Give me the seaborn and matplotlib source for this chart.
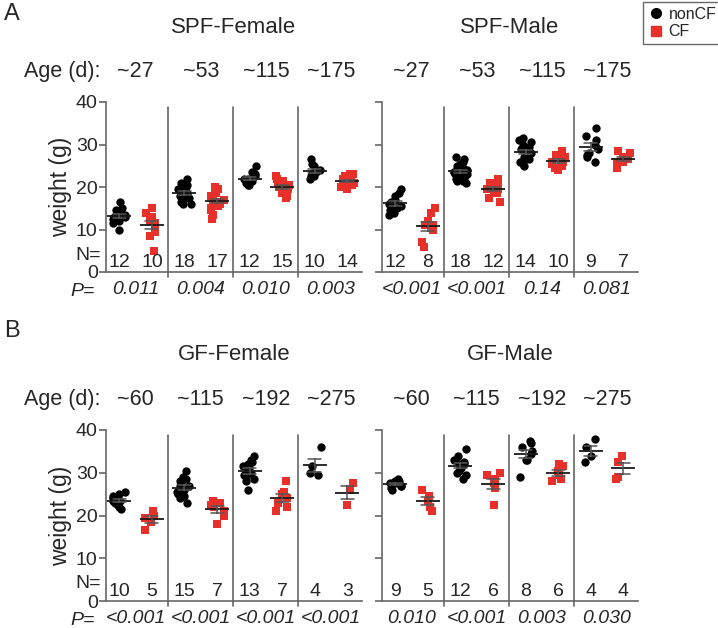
import numpy as np
import pandas as pd
import matplotlib
matplotlib.use('Agg')
import matplotlib.pyplot as plt
import seaborn as sns
from matplotlib.lines import Line2D

sns.set_theme(style='white')
plt.rcParams['font.family'] = ['Liberation Sans', 'DejaVu Sans']
np.random.seed(3)

conditions = ['nonCF', 'CF']
spf_ages = ['~27', '~53', '~115', '~175']
gf_ages = ['~60', '~115', '~192', '~275']

# SPF-Female weights (g)
spf_female_noncf = [
    [16.5, 15, 14.5, 14, 13.5, 13, 13, 12.5, 12.5, 12, 11.5, 10],
    [22, 21, 20.5, 20, 19.5, 19.5, 19, 19, 18.5, 18.5, 18, 18, 17.5, 17.5, 17, 16.5, 16, 16],
    [25, 23.5, 23, 22.5, 22, 22, 21.5, 21.5, 21, 21, 20.5, 20.5],
    [26.5, 25.5, 25, 24, 23.5, 23, 23, 22.5, 22.5, 22],
]
spf_female_cf = [
    [15, 14, 13, 12, 11.5, 11, 10.5, 9.5, 8.5, 5],
    [20, 19.5, 19, 18.5, 18, 17.5, 17, 17, 16.5, 16.5, 16, 16, 15.5, 15, 14.5, 13.5, 12.5],
    [22.5, 22, 21.5, 21, 20.5, 20.5, 20, 20, 20, 19.5, 19.5, 19, 18.5, 18, 17.5],
    [23, 23, 22.5, 22.5, 22, 22, 21.5, 21.5, 21, 21, 20.5, 20.5, 20, 19.5],
]
spf_female_p = ['0.011', '0.004', '0.010', '0.003']

# SPF-Male weights (g)
spf_male_noncf = [
    [19.5, 18.5, 18, 17, 16.5, 16, 16, 15.5, 15, 14.5, 14, 13.5],
    [27, 26.5, 26, 25.5, 25, 24.5, 24, 24, 23.5, 23.5, 23, 23, 22.5, 22.5, 22, 21.5, 21.5, 21],
    [31.5, 31, 30.5, 30, 29.5, 29, 28.5, 28, 27.5, 27, 26.5, 26, 25.5, 25],
    [34, 32, 31, 30, 29, 28, 27.5, 27, 26],
]
spf_male_cf = [
    [15, 14, 12, 11, 11, 10, 7, 6],
    [22, 21.5, 21, 20.5, 20, 20, 19.5, 19.5, 19, 18.5, 17.5, 16.5],
    [28.5, 27.5, 27, 26.5, 26, 26, 25.5, 25, 24.5, 24],
    [28.5, 28, 27, 26.5, 26, 26, 24.5],
]
spf_male_p = ['<0.001', '<0.001', '0.14', '0.081']

# GF-Female weights (g)
gf_female_noncf = [
    [25.5, 25, 24.5, 24, 23.5, 23.5, 23, 22.5, 22, 21.5],
    [30.5, 29, 28.5, 28, 27.5, 27, 27, 26.5, 26, 26, 25.5, 25, 24.5, 24, 23],
    [34, 33, 32.5, 32, 31.5, 31, 30.5, 30, 29.5, 29, 28.5, 28, 26],
    [36, 31.5, 30, 29.5],
]
gf_female_cf = [
    [21, 20, 19.5, 18.5, 16.5],
    [23.5, 23, 22.5, 22, 21, 20, 18],
    [28, 25.5, 25, 24, 23, 22, 21],
    [27.5, 26, 22.5],
]
gf_female_p = ['<0.001', '<0.001', '<0.001', '<0.001']

# GF-Male weights (g)
gf_male_noncf = [
    [28.5, 28, 28, 27.5, 27.5, 27, 27, 26.5, 26],
    [35.5, 34, 33, 32.5, 32, 32, 31.5, 31, 30.5, 30, 29.5, 28.5],
    [37.5, 37, 36, 35, 34.5, 33, 33, 29],
    [38, 36, 34, 32.5],
]
gf_male_cf = [
    [26, 24.5, 23.5, 22, 21],
    [30, 29.5, 28.5, 27.5, 26.5, 22.5],
    [32, 31.5, 30.5, 29.5, 28.5, 28],
    [34, 32.5, 29, 28.5],
]
gf_male_p = ['0.010', '<0.001', '0.003', '0.030']

RED = '#E8302A'
AXC = '#666666'
W, H = 718, 628

def frac(x0, y0, x1, y1):
    return [x0 / W, 1 - y1 / H, (x1 - x0) / W, (y1 - y0) / H]

fig = plt.figure(figsize=(7.18, 6.28), dpi=100)

panels = [
    ('SPF-Female', spf_ages, spf_female_noncf, spf_female_cf, spf_female_p, frac(106, 102, 362, 272), True),
    ('SPF-Male', spf_ages, spf_male_noncf, spf_male_cf, spf_male_p, frac(382, 102, 638, 272), False),
    ('GF-Female', gf_ages, gf_female_noncf, gf_female_cf, gf_female_p, frac(106, 430, 362, 601), True),
    ('GF-Male', gf_ages, gf_male_noncf, gf_male_cf, gf_male_p, frac(382, 430, 638, 601), False),
]

order = [f'{g}{c}' for g in range(4) for c in ('n', 'c')]

for title, ages, noncf, cf, pvals, rect, is_left in panels:
    ax = fig.add_axes(rect)
    rows = []
    for g in range(4):
        for v in noncf[g]:
            rows.append({'pos': f'{g}n', 'cond': 'nonCF', 'weight': v})
        for v in cf[g]:
            rows.append({'pos': f'{g}c', 'cond': 'CF', 'weight': v})
    df = pd.DataFrame(rows)
    dn = df[df.cond == 'nonCF']
    dc = df[df.cond == 'CF']
    sns.stripplot(data=dn, x='pos', y='weight', order=order, color='black',
                  marker='o', size=6, jitter=0.22, linewidth=0, ax=ax, zorder=3)
    sns.stripplot(data=dc, x='pos', y='weight', order=order, color=RED,
                  marker='s', size=5.5, jitter=0.22, linewidth=0, ax=ax, zorder=3)
    for d in (dn, dc):
        sns.pointplot(data=d, x='pos', y='weight', order=order, color='#1a1a1a',
                      errorbar='se', linestyle='none', marker='_', markersize=17,
                      markeredgewidth=1.3, capsize=0.4,
                      err_kws={'linewidth': 1.1, 'color': '#555555'}, ax=ax, zorder=4)
    ax.set_xlim(-0.41, 7.45)
    ax.set_ylim(0, 40)
    ax.set_yticks([0, 10, 20, 30, 40])
    ax.set_xticks([])
    ax.set_xlabel('')
    sns.despine(ax=ax)
    for s in ('left', 'bottom'):
        ax.spines[s].set_color(AXC)
        ax.spines[s].set_linewidth(1.2)
    ax.tick_params(axis='y', direction='out', length=5, width=1.2, color=AXC,
                   labelsize=14, pad=1, left=True)
    if is_left:
        ax.set_ylabel('weight (g)', fontsize=16.5, labelpad=3)
        ax.text(-0.02, 0.10, 'N=', transform=ax.transAxes, ha='right', va='center', fontsize=14)
        ax.text(-0.045, -0.112, 'P=', transform=ax.transAxes, ha='right', va='center',
                fontsize=14, style='italic')
        ax.text(-0.023, 1.18, 'Age (d):', transform=ax.transAxes, ha='right', va='center', fontsize=15.5)
    else:
        ax.set_ylabel('')
        ax.set_yticklabels([])
    # group separators
    for xs in (1.5, 3.5, 5.5):
        ax.plot([xs, xs], [-1.2, 38.8], color=AXC, lw=1.2, clip_on=False, zorder=1)
    for g in range(4):
        ax.text(2 * g, 2.3, str(len(noncf[g])), ha='center', va='center', fontsize=14)
        ax.text(2 * g + 1, 2.3, str(len(cf[g])), ha='center', va='center', fontsize=14)
        ax.text(2 * g + 0.5, -4.2, pvals[g], ha='center', va='center', fontsize=14, style='italic')
        ax.text(2 * g + 0.5, 1.18, ages[g], transform=ax.get_xaxis_transform(),
                ha='center', va='center', fontsize=15.5)
    ax.text(0.5, 1.44, title, transform=ax.transAxes, ha='center', va='center', fontsize=16)

fig.text(4 / W, 1 - 14 / H, 'A', fontsize=17, ha='left', va='center')
fig.text(4 / W, 1 - 331 / H, 'B', fontsize=17, ha='left', va='center')

handles = [
    Line2D([], [], marker='o', color='black', linestyle='none', markersize=7, label='nonCF'),
    Line2D([], [], marker='s', color=RED, linestyle='none', markersize=6.5, label='CF'),
]
leg = fig.legend(handles=handles, loc='upper left', bbox_to_anchor=(643 / W, 1 - 2 / H),
                 frameon=True, fontsize=11.5, handletextpad=0.3, borderpad=0.3,
                 labelspacing=0.15, handlelength=1.0, borderaxespad=0, fancybox=False)
leg.get_frame().set_edgecolor('#444444')
leg.get_frame().set_linewidth(1.0)

fig.savefig('out.png', dpi=100)
